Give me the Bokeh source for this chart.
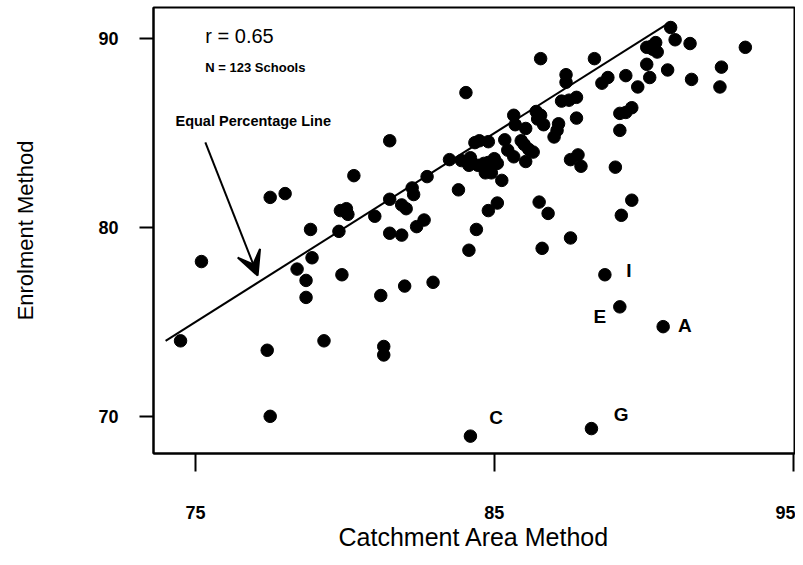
from bokeh.plotting import figure
from bokeh.models import Range1d, FixedTicker, Label, Arrow, VeeHead
from bokeh.embed import file_html
from bokeh.resources import INLINE
from bokeh.core.properties import value

# ---- data ----
catchment = [74.5, 75.2, 77.4, 77.5, 78.0, 77.5, 78.4, 78.7, 78.7, 78.85, 78.9, 79.3, 79.8, 79.85,
             80.05, 80.1, 79.9, 80.3, 81.0, 81.2, 81.3, 81.3, 81.5, 81.5, 81.5, 81.9, 81.9, 82.05,
             82.0, 82.25, 82.3, 82.4, 82.65, 82.75, 82.95, 83.5, 83.8, 84.05, 84.15, 84.2, 84.4,
             84.8, 85.1, 84.35, 84.5, 84.8, 85.35, 85.9, 86.0, 86.15, 86.3, 85.45, 85.65, 86.05,
             83.9, 84.2, 84.15, 84.45, 84.65, 84.8, 85.0, 85.1, 84.7, 84.9, 85.25, 85.65, 85.7,
             86.05, 86.4, 86.55, 86.45, 86.65, 87.15, 87.1, 87.0, 86.55, 87.4, 87.4, 87.25, 87.5,
             87.75, 87.75, 87.55, 87.8, 87.9, 86.5, 86.8, 86.6, 87.55, 88.35, 88.6, 88.8, 89.05,
             89.2, 89.4, 89.6, 89.2, 89.4, 89.6, 89.25, 88.7, 89.2, 90.65, 88.25, 89.8, 90.1, 90.2,
             90.1, 90.4, 90.45, 90.3, 90.8, 90.9, 91.05, 91.55, 91.6, 92.6, 92.55, 93.4, 84.9,
             84.25, 86.45, 90.25]
enrolment = [74.0, 78.2, 73.5, 81.6, 81.8, 70.0, 77.8, 77.2, 76.3, 79.9, 78.4, 74.0, 79.8, 80.9,
             81.0, 80.7, 77.5, 82.75, 80.6, 76.4, 73.7, 73.25, 84.6, 81.5, 79.7, 79.6, 81.2, 81.0,
             76.9, 82.1, 81.75, 80.05, 80.4, 82.7, 77.1, 83.6, 82.0, 87.15, 78.8, 68.95, 79.9,
             80.9, 81.3, 84.5, 84.6, 84.55, 84.65, 84.6, 84.4, 84.15, 84.0, 84.1, 83.75, 83.5,
             83.55, 83.7, 83.3, 83.3, 83.4, 83.45, 83.65, 83.4, 82.9, 82.9, 82.5, 85.95, 85.45,
             85.25, 86.15, 85.95, 85.75, 85.45, 85.5, 85.15, 84.8, 88.95, 88.1, 87.7, 86.7, 86.75,
             86.9, 85.8, 83.6, 83.85, 83.25, 81.35, 80.75, 78.9, 79.45, 88.95, 87.65, 87.95, 83.2,
             86.05, 86.1, 86.35, 85.15, 88.05, 81.45, 80.65, 77.5, 75.8, 74.75, 69.35, 87.45,
             88.65, 87.95, 89.55, 89.8, 89.3, 89.45, 88.35, 90.6, 89.95, 89.75, 87.85, 88.5,
             87.45, 89.55, 83.2, 83.4, 86.05, 89.6]

school_labels = ["I", "E", "A", "C", "G"]
school_label_x = [89.5, 88.53, 91.38, 85.06, 89.24]
school_label_y = [77.75, 75.27, 74.8, 69.94, 70.08]

equal_line_x = [74.0, 90.9]
equal_line_y = [74.0, 90.9]

x_ticks = [75, 85, 95]
y_ticks = [70, 80, 90]

x_title = "Catchment Area Method"
y_title = "Enrolment Method"

FONT = "Liberation Sans"

p = figure(width=795, height=557,
           x_range=Range1d(73.595, 95.045), y_range=Range1d(68.03, 91.66),
           output_backend="svg", toolbar_location=None,
           min_border_left=153, min_border_right=1, min_border_top=7, min_border_bottom=104,
           x_axis_label=x_title, y_axis_label=y_title)

p.background_fill_color = "white"
p.border_fill_color = "white"
p.outline_line_color = "black"
p.outline_line_width = 2
p.xgrid.visible = False
p.ygrid.visible = False

for ax, ticks in ((p.xaxis[0], x_ticks), (p.yaxis[0], y_ticks)):
    ax.ticker = FixedTicker(ticks=ticks)
    ax.minor_tick_line_color = None
    ax.major_tick_in = 0
    ax.major_tick_line_width = 2
    ax.major_tick_line_color = "black"
    ax.axis_line_color = "black"
    ax.axis_line_width = 2
    ax.major_label_text_font = FONT
    ax.major_label_text_font_style = "bold"
    ax.major_label_text_font_size = "18px"
    ax.major_label_text_color = "black"
    ax.axis_label_text_font = FONT
    ax.axis_label_text_font_style = "normal"
    ax.axis_label_text_color = "black"

p.xaxis.axis_label_text_font_size = "25px"
p.yaxis.axis_label_text_font_size = "22px"
p.xaxis.major_tick_out = 18
p.xaxis.major_label_standoff = 34
p.xaxis.axis_label_standoff = 1
p.yaxis.major_tick_out = 14
p.yaxis.major_label_standoff = 21
p.yaxis.axis_label_standoff = 57

# equal percentage line
p.line(equal_line_x, equal_line_y, line_color="black", line_width=2)

# schools
p.scatter(catchment, enrolment, size=12.5, fill_color="black", line_color="black")

# labelled schools
p.text(x=school_label_x, y=school_label_y, text=school_labels,
       text_font=value(FONT), text_font_size="19px", text_font_style="bold",
       text_align="center", text_baseline="middle", text_color="black")

# annotations
p.add_layout(Label(x=75.33, y=90.17, text="r = 0.65", text_font=FONT, text_font_size="20px",
                   text_baseline="middle", text_color="black"))
p.add_layout(Label(x=75.33, y=88.48, text="N = 123 Schools", text_font=FONT, text_font_size="13px",
                   text_font_style="bold", text_baseline="middle", text_color="black"))
p.add_layout(Label(x=74.33, y=85.67, text="Equal Percentage Line", text_font=FONT,
                   text_font_size="14.5px", text_font_style="bold", text_baseline="middle",
                   text_color="black"))
p.add_layout(Arrow(end=VeeHead(size=24, fill_color="black", line_color="black", line_width=2),
                   x_start=75.33, y_start=84.52, x_end=77.08, y_end=77.46,
                   line_color="black", line_width=2))

open("out.html", "w").write(file_html(p, INLINE))
